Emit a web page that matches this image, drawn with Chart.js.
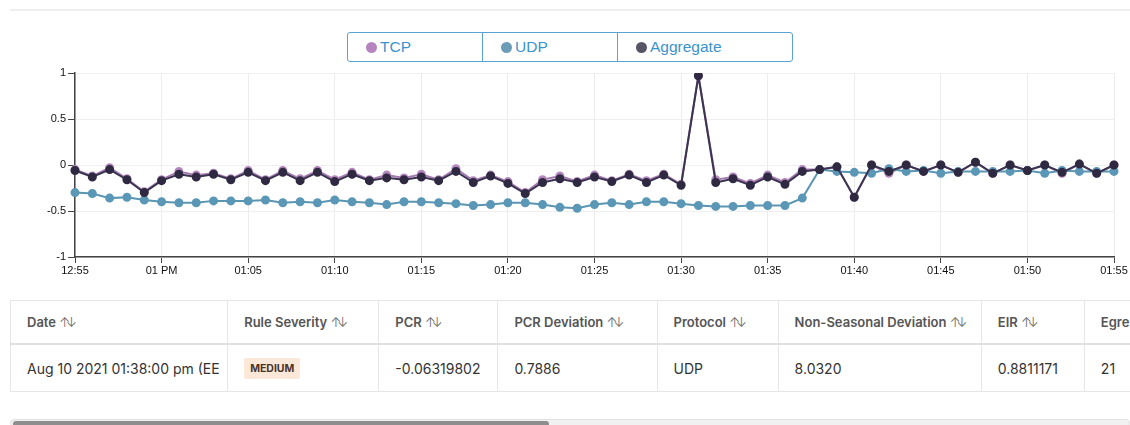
<!DOCTYPE html>
<html>
<head>
<meta charset="utf-8">
<script src="https://cdn.jsdelivr.net/npm/chart.js@4/dist/chart.umd.min.js"></script>
<style>
  html, body { margin: 0; padding: 0; width: 1130px; height: 425px; overflow: hidden; background: #fff; font-family: Inter, Roboto, "Liberation Sans", sans-serif; }
  .topline { position: absolute; left: 10px; top: 9px; width: 1120px; height: 2px; background: #efefef; }
  .legend { position: absolute; left: 347px; top: 32px; width: 444px; height: 28px; border: 1px solid #5aa3d4; border-radius: 3px; display: flex; }
  .legend .item { height: 28px; line-height: 27px; font-family: "Liberation Sans", Arial, sans-serif; font-size: 15.5px; color: #3b93cc; padding-left: 18px; box-sizing: border-box; cursor: pointer; }
  .legend .item + .item { border-left: 1px solid #5aa3d4; }
  .legend .dot { display: inline-block; width: 11px; height: 11px; border-radius: 50%; margin-right: 3px; vertical-align: -1px; }
  .chart-box { position: absolute; left: 0; top: 60px; width: 1130px; height: 221px; }
  .table-wrap { position: absolute; left: 10px; top: 300px; width: 1130px; overflow: hidden; }
  table { border-collapse: collapse; table-layout: fixed; width: 1200px; }
  th, td { text-align: left; padding: 0 0 0 16px; white-space: nowrap; overflow: hidden; border: 1px solid #e6e6e6; }
  th { height: 42px; font-size: 13px; font-weight: 600; color: #555; border-bottom: 2px solid #e0e0e0; }
  td { height: 46px; font-size: 14px; color: #333; }
  .clip { display: block; width: 192px; overflow: hidden; }
  .sort { font-weight: 300; font-size: 13px; letter-spacing: -4px; color: #666; margin-left: 0; }
  .badge { display: inline-block; background: #fbe8d8; color: #4a3428; font-size: 10.5px; font-weight: 700; padding: 4px 6px; border-radius: 2px; }
  .scroll { position: absolute; left: 10px; top: 419px; width: 1120px; height: 8px; background: #f1f1f1; border: 1px solid #e2e2e2; border-radius: 4px; box-sizing: border-box; }
  .thumb { position: absolute; left: 2px; top: 1px; width: 536px; height: 6px; background: #8e8e8e; border-radius: 3px; }
</style>
</head>
<body>
<div class="topline"></div>
<div class="legend" id="legend"></div>
<div class="chart-box"><canvas id="chart"></canvas></div>

<div class="table-wrap">
  <table>
    <colgroup>
      <col style="width:217px"><col style="width:151px"><col style="width:119px"><col style="width:159px">
      <col style="width:121px"><col style="width:203px"><col style="width:103px"><col style="width:125px">
    </colgroup>
    <thead>
      <tr>
        <th>Date <span class="sort">↑↓</span></th>
        <th>Rule Severity <span class="sort">↑↓</span></th>
        <th>PCR <span class="sort">↑↓</span></th>
        <th>PCR Deviation <span class="sort">↑↓</span></th>
        <th>Protocol <span class="sort">↑↓</span></th>
        <th>Non-Seasonal Deviation <span class="sort">↑↓</span></th>
        <th>EIR <span class="sort">↑↓</span></th>
        <th>Egress <span class="sort">↑↓</span></th>
      </tr>
    </thead>
    <tbody>
      <tr>
        <td><span class="clip">Aug 10 2021 01:38:00 pm (EEST)</span></td>
        <td><span class="badge">MEDIUM</span></td>
        <td>-0.06319802</td>
        <td>0.7886</td>
        <td>UDP</td>
        <td>8.0320</td>
        <td>0.8811171</td>
        <td>21</td>
      </tr>
    </tbody>
  </table>
</div>
<div class="scroll"><div class="thumb"></div></div>

<script>
// one point per minute, 12:55 -> 01:55
const times = [
  '12:55','12:56','12:57','12:58','12:59',
  '01:00','01:01','01:02','01:03','01:04','01:05','01:06','01:07','01:08','01:09',
  '01:10','01:11','01:12','01:13','01:14','01:15','01:16','01:17','01:18','01:19',
  '01:20','01:21','01:22','01:23','01:24','01:25','01:26','01:27','01:28','01:29',
  '01:30','01:31','01:32','01:33','01:34','01:35','01:36','01:37','01:38','01:39',
  '01:40','01:41','01:42','01:43','01:44','01:45','01:46','01:47','01:48','01:49',
  '01:50','01:51','01:52','01:53','01:54','01:55'
];

const tickTimes = ['12:55','01:00','01:05','01:10','01:15','01:20','01:25','01:30','01:35','01:40','01:45','01:50','01:55'];
const tickText  = ['12:55','01 PM','01:05','01:10','01:15','01:20','01:25','01:30','01:35','01:40','01:45','01:50','01:55'];
const yTicks = [-1, -0.5, 0, 0.5, 1];

const tcp = [
  -0.05,-0.12,-0.03,-0.15,-0.29,-0.16,-0.07,-0.11,-0.09,-0.15,
  -0.06,-0.16,-0.06,-0.15,-0.06,-0.16,-0.08,-0.16,-0.11,-0.14,
  -0.10,-0.16,-0.04,-0.17,-0.11,-0.18,-0.30,-0.16,-0.12,-0.18,
  -0.11,-0.17,-0.10,-0.17,-0.10,-0.21,0.97,-0.16,-0.13,-0.20,
  -0.11,-0.19,-0.05,-0.05,-0.02,-0.35,0.00,-0.09,0.00,-0.07,
  0.00,-0.08,0.03,-0.09,0.00,-0.06,0.00,-0.09,0.01,-0.09,
  0.00
];

const udp = [
  -0.30,-0.31,-0.36,-0.35,-0.38,-0.40,-0.41,-0.41,-0.39,-0.39,
  -0.39,-0.38,-0.41,-0.40,-0.41,-0.38,-0.40,-0.41,-0.43,-0.40,
  -0.40,-0.41,-0.42,-0.44,-0.43,-0.41,-0.41,-0.43,-0.46,-0.47,
  -0.43,-0.41,-0.43,-0.40,-0.40,-0.42,-0.44,-0.45,-0.45,-0.44,
  -0.44,-0.44,-0.36,-0.05,-0.07,-0.08,-0.09,-0.04,-0.07,-0.06,
  -0.09,-0.07,-0.07,-0.07,-0.07,-0.06,-0.09,-0.06,-0.07,-0.07,
  -0.07
];

const aggregate = [
  -0.06,-0.13,-0.05,-0.16,-0.30,-0.17,-0.10,-0.13,-0.10,-0.16,
  -0.08,-0.17,-0.08,-0.17,-0.08,-0.18,-0.10,-0.17,-0.14,-0.16,
  -0.13,-0.17,-0.07,-0.19,-0.12,-0.20,-0.31,-0.19,-0.15,-0.19,
  -0.13,-0.18,-0.11,-0.19,-0.11,-0.22,0.97,-0.19,-0.15,-0.22,
  -0.13,-0.21,-0.07,-0.05,-0.02,-0.35,0.00,-0.07,0.00,-0.07,
  0.00,-0.08,0.03,-0.09,0.00,-0.06,0.00,-0.08,0.01,-0.09,
  0.00
];

const colors = {
  tcp: { line: '#a77bb1', point: '#b488be', dot: '#b685c0' },
  udp: { line: '#5a95b1', point: '#5b97b6', dot: '#6b9cb8' },
  agg: { line: '#3a3450', point: '#2f2a42', dot: '#575565' }
};

const makeSet = (label, data, c, order) => ({
  label: label,
  data: data,
  borderColor: c.line,
  backgroundColor: c.point,
  pointBackgroundColor: c.point,
  pointBorderColor: c.point,
  legendDot: c.dot,
  borderWidth: 2,
  pointRadius: 3.5,
  tension: 0,
  order: order
});

const axisColor = '#444';
const tickFont = { family: '"Liberation Sans", Arial, sans-serif', size: 11 };

const chart = new Chart(document.getElementById('chart'), {
  type: 'line',
  data: {
    labels: times,
    datasets: [
      makeSet('TCP', tcp, colors.tcp, 3),
      makeSet('UDP', udp, colors.udp, 2),
      makeSet('Aggregate', aggregate, colors.agg, 1)
    ]
  },
  options: {
    responsive: true,
    maintainAspectRatio: false,
    animation: false,
    layout: { padding: { top: 13, right: 16, left: 0, bottom: 0 } },
    plugins: {
      legend: { display: false },
      tooltip: { enabled: false }
    },
    scales: {
      x: {
        type: 'category',
        offset: false,
        border: { color: axisColor, width: 1.5 },
        grid: { color: '#ececec', tickColor: axisColor, tickLength: 6, lineWidth: 1 },
        ticks: {
          autoSkip: false,
          maxRotation: 0,
          padding: 1,
          color: '#111',
          font: tickFont,
          callback: function (val, index) {
            const i = tickTimes.indexOf(times[index]);
            return i >= 0 ? tickText[i] : null;
          }
        },
        afterFit: function (scale) { scale.height = 24; }
      },
      y: {
        min: yTicks[0],
        max: yTicks[yTicks.length - 1],
        border: { color: axisColor, width: 1.5 },
        grid: { color: '#efefef', tickColor: axisColor, tickLength: 7 },
        ticks: {
          stepSize: 0.5,
          padding: 2,
          color: '#111',
          font: tickFont,
          callback: function (val) { return yTicks.includes(val) ? String(val) : null; }
        },
        afterFit: function (scale) { scale.width = 75; }
      }
    }
  }
});

// boxed legend built from the chart's datasets
const legendEl = document.getElementById('legend');
const widths = [134, 135, 175];
chart.data.datasets.forEach(function (ds, i) {
  const item = document.createElement('div');
  item.className = 'item';
  item.style.width = widths[i] + 'px';
  item.innerHTML = '<span class="dot" style="background:' + ds.legendDot + '"></span>' + ds.label;
  item.onclick = function () {
    chart.setDatasetVisibility(i, !chart.isDatasetVisible(i));
    chart.update();
  };
  legendEl.appendChild(item);
});
</script>
</body>
</html>
